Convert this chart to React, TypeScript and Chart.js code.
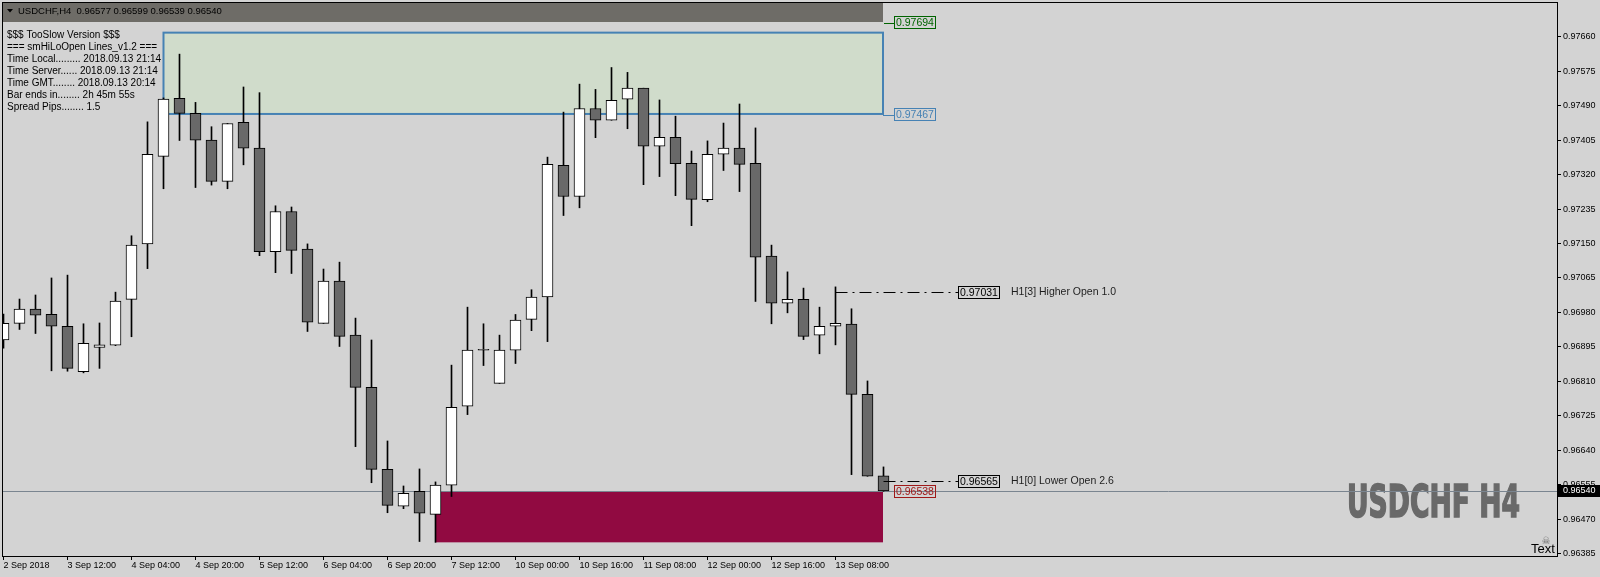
import React, { useEffect, useRef } from "react";
import { Chart, registerables } from "chart.js";

Chart.register(...registerables);

// ---------- data ----------
const OPEN = [
  0.96912, 0.96953, 0.96988, 0.96975, 0.96946, 0.96834, 0.96894, 0.96899, 0.97012, 0.97149,
  0.97365, 0.97508, 0.97471, 0.97405, 0.97303, 0.97449, 0.97385, 0.97130, 0.97229, 0.97136,
  0.96953, 0.97057, 0.96924, 0.96795, 0.96593, 0.96502, 0.96539, 0.96482, 0.96554, 0.96749,
  0.96889, 0.96805, 0.96887, 0.96963, 0.97018, 0.97343, 0.97266, 0.97483, 0.97454, 0.97506,
  0.97533, 0.97390, 0.97412, 0.97348, 0.97258, 0.97370, 0.97385, 0.97348, 0.97119, 0.97003,
  0.97012, 0.96924, 0.96946, 0.96951, 0.96778, 0.96577,
];
const HIGH = [
  0.96976, 0.97013, 0.97023, 0.97065, 0.97072, 0.96952, 0.96954, 0.97030, 0.97169, 0.97450,
  0.97509, 0.97617, 0.97498, 0.97438, 0.97446, 0.97536, 0.97522, 0.97243, 0.97240, 0.97149,
  0.97087, 0.97104, 0.96966, 0.96912, 0.96663, 0.96552, 0.96594, 0.96562, 0.96850, 0.96993,
  0.96952, 0.96924, 0.96975, 0.97036, 0.97363, 0.97474, 0.97543, 0.97530, 0.97584, 0.97572,
  0.97533, 0.97504, 0.97464, 0.97378, 0.97403, 0.97447, 0.97494, 0.97435, 0.97146, 0.97080,
  0.97040, 0.96993, 0.97043, 0.96989, 0.96811, 0.96599,
];
const LOW = [
  0.96892, 0.96938, 0.96928, 0.96836, 0.96835, 0.96831, 0.96842, 0.96898, 0.96920, 0.97088,
  0.97285, 0.97404, 0.97288, 0.97294, 0.97285, 0.97344, 0.97120, 0.97078, 0.97076, 0.96933,
  0.96953, 0.96896, 0.96649, 0.96560, 0.96486, 0.96496, 0.96415, 0.96413, 0.96526, 0.96728,
  0.96849, 0.96805, 0.96854, 0.96935, 0.96908, 0.97219, 0.97238, 0.97411, 0.97454, 0.97433,
  0.97295, 0.97315, 0.97268, 0.97194, 0.97253, 0.97330, 0.97278, 0.97007, 0.96952, 0.96979,
  0.96913, 0.96878, 0.96900, 0.96580, 0.96576, 0.96539,
];
const CLOSE = [
  0.96953, 0.96988, 0.96973, 0.96946, 0.96842, 0.96904, 0.96900, 0.97008, 0.97146, 0.97370,
  0.97506, 0.97471, 0.97405, 0.97303, 0.97446, 0.97385, 0.97130, 0.97229, 0.97133, 0.96956,
  0.97057, 0.96921, 0.96795, 0.96593, 0.96504, 0.96534, 0.96485, 0.96554, 0.96746, 0.96887,
  0.96887, 0.96887, 0.96961, 0.97018, 0.97345, 0.97266, 0.97483, 0.97454, 0.97503, 0.97533,
  0.97390, 0.97412, 0.97347, 0.97259, 0.97370, 0.97385, 0.97345, 0.97116, 0.97003, 0.97012,
  0.96921, 0.96946, 0.96953, 0.96778, 0.96576, 0.96540,
];

const X_TICK_INDEX = [0, 4, 8, 12, 16, 20, 24, 28, 32, 36, 40, 44, 48, 52];
const X_TICK_LABELS = [
  "2 Sep 2018", "3 Sep 12:00", "4 Sep 04:00", "4 Sep 20:00", "5 Sep 12:00", "6 Sep 04:00",
  "6 Sep 20:00", "7 Sep 12:00", "10 Sep 00:00", "10 Sep 16:00", "11 Sep 08:00",
  "12 Sep 00:00", "12 Sep 16:00", "13 Sep 08:00",
];
const Y_TICKS = [
  0.96385, 0.9647, 0.96555, 0.9664, 0.96725, 0.9681, 0.96895, 0.9698, 0.97065, 0.9715,
  0.97235, 0.9732, 0.97405, 0.9749, 0.97575, 0.9766,
];

const SYMBOL = "USDCHF";
const TIMEFRAME = "H4";
const INFO_LINES = [
  "$$$ TooSlow Version $$$",
  "=== smHiLoOpen Lines_v1.2 ===",
  "Time Local......... 2018.09.13 21:14",
  "Time Server...... 2018.09.13 21:14",
  "Time GMT........ 2018.09.13 20:14",
  "Bar ends in........ 2h 45m 55s",
  "Spread Pips........ 1.5",
];

const ZONE_HIGH = [0.9767, 0.97467];
const ZONE_HIGH_FROM = 10;
const ZONE_LOW = [0.96538, 0.96413];
const ZONE_LOW_FROM = 27;
const ZONE_TO = 55;
const TOP_LEVEL = 0.97694;
const H1_LEVELS = [0.97031, 0.96565];
const H1_FROM = [52, 55];
const H1_TEXT = ["H1[3] Higher Open 1.0", "H1[0] Lower Open 2.6"];

const Y_MIN = 0.963793;
const Y_MAX = 0.977431;
const X_MIN = -0.03125;
const X_MAX = 97.09375;

// ---------- styling ----------
const BG = "#D3D3D3";
const BEAR = "#696969";
const BULL = "#FFFFFF";
const F = "'Liberation Sans', Arial, sans-serif";

const fmt = (v: number) => v.toFixed(5);

const mtPlugin = {
  id: "mt",
  beforeDraw(chart: any) {
    const { ctx, width, height } = chart;
    ctx.save();
    ctx.fillStyle = BG;
    ctx.fillRect(0, 0, width, height);
    ctx.restore();
  },
  beforeDatasetsDraw(chart: any) {
    const ctx = chart.ctx;
    const xs = chart.scales.x;
    const ys = chart.scales.y;
    const ca = chart.chartArea;
    ctx.save();
    ctx.beginPath();
    ctx.rect(ca.left, ca.top, ca.right - ca.left, ca.bottom - ca.top);
    ctx.clip();

    // watermark
    ctx.save();
    ctx.font = "bold 44px 'Liberation Sans Narrow', 'DejaVu Sans Condensed', sans-serif";
    const wm = `${SYMBOL} ${TIMEFRAME}`;
    const w = ctx.measureText(wm).width;
    ctx.translate(1347, 516.5);
    ctx.scale(173 / w, 1);
    ctx.fillStyle = "#696969";
    ctx.strokeStyle = "#696969";
    ctx.lineWidth = 1.5;
    ctx.textBaseline = "alphabetic";
    ctx.fillText(wm, 0, 0);
    ctx.strokeText(wm, 0, 0);
    ctx.restore();

    // high zone
    const gx0 = xs.getPixelForValue(ZONE_HIGH_FROM);
    const gx1 = xs.getPixelForValue(ZONE_TO) - 0.5;
    const gy0 = ys.getPixelForValue(ZONE_HIGH[0]);
    const gy1 = ys.getPixelForValue(ZONE_HIGH[1]) - 1;
    ctx.fillStyle = "#D0DCCB";
    ctx.fillRect(gx0, gy0, gx1 - gx0, gy1 - gy0);
    ctx.strokeStyle = "#4682B4";
    ctx.lineWidth = 2;
    ctx.strokeRect(gx0, gy0, gx1 - gx0, gy1 - gy0);

    // low zone
    const rx0 = xs.getPixelForValue(ZONE_LOW_FROM);
    const rx1 = xs.getPixelForValue(ZONE_TO) - 0.5;
    const ry0 = ys.getPixelForValue(ZONE_LOW[0]);
    const ry1 = ys.getPixelForValue(ZONE_LOW[1]);
    ctx.fillStyle = "#910A41";
    ctx.fillRect(rx0, ry0, rx1 - rx0, ry1 - ry0);

    // current price line
    const cp = CLOSE[CLOSE.length - 1];
    const cy = Math.round(ys.getPixelForValue(cp)) + 0.5;
    ctx.strokeStyle = "#7A8590";
    ctx.lineWidth = 1;
    ctx.beginPath();
    ctx.moveTo(ca.left, cy);
    ctx.lineTo(ca.right, cy);
    ctx.stroke();
    ctx.restore();
  },
  afterDatasetsDraw(chart: any) {
    const ctx = chart.ctx;
    const xs = chart.scales.x;
    const ys = chart.scales.y;
    const ca = chart.chartArea;
    ctx.save();
    ctx.beginPath();
    ctx.rect(ca.left, ca.top, ca.right - ca.left, ca.bottom - ca.top);
    ctx.clip();

    const labelBox = (x: number, cy: number, text: string, color: string) => {
      ctx.strokeStyle = color;
      ctx.lineWidth = 1;
      const top = Math.round(cy - 6.5) + 0.5;
      ctx.strokeRect(x + 0.5, top, 41, 12);
      ctx.fillStyle = color;
      ctx.font = `10.5px ${F}`;
      ctx.textBaseline = "middle";
      ctx.textAlign = "left";
      ctx.fillText(text, x + 2, top + 6.5);
    };

    // level labels at zone right side
    const zx = xs.getPixelForValue(ZONE_TO) - 0.5;
    const topY = ys.getPixelForValue(TOP_LEVEL);
    ctx.strokeStyle = "#006400";
    ctx.lineWidth = 1;
    ctx.beginPath();
    ctx.moveTo(zx + 1, Math.round(topY) + 0.5);
    ctx.lineTo(894, Math.round(topY) + 0.5);
    ctx.stroke();
    labelBox(894, topY, fmt(TOP_LEVEL), "#006400");

    const bY = ys.getPixelForValue(ZONE_HIGH[1]);
    ctx.strokeStyle = "#4682B4";
    ctx.beginPath();
    ctx.moveTo(zx, Math.round(bY) + 0.5);
    ctx.lineTo(894, Math.round(bY) + 0.5);
    ctx.stroke();
    labelBox(894, bY, fmt(ZONE_HIGH[1]), "#4682B4");

    const lY = ys.getPixelForValue(ZONE_LOW[0]);
    labelBox(894, lY, fmt(ZONE_LOW[0]), "#A01818");

    // H1 open lines
    H1_LEVELS.forEach((lv, k) => {
      const y = Math.round(ys.getPixelForValue(lv)) + 0.5;
      const x0 = xs.getPixelForValue(H1_FROM[k]);
      ctx.strokeStyle = "#000";
      ctx.lineWidth = 1;
      ctx.setLineDash([12, 5, 2, 5]);
      ctx.beginPath();
      ctx.moveTo(x0, y);
      ctx.lineTo(958, y);
      ctx.stroke();
      ctx.setLineDash([]);
      labelBox(958, y, fmt(lv), "#000");
      ctx.fillStyle = "#1E1E1E";
      ctx.font = `10.5px ${F}`;
      ctx.textBaseline = "middle";
      ctx.fillText(H1_TEXT[k], 1011, y);
    });

    // header bar
    ctx.fillStyle = "#6E6C67";
    ctx.fillRect(ca.left, ca.top, 880, 19);
    ctx.fillStyle = "#000";
    ctx.beginPath();
    ctx.moveTo(7, 9);
    ctx.lineTo(13, 9);
    ctx.lineTo(10, 12.5);
    ctx.closePath();
    ctx.fill();
    const n = CLOSE.length - 1;
    ctx.font = `9.5px ${F}`;
    ctx.textBaseline = "middle";
    ctx.textAlign = "left";
    ctx.fillText(
      `${SYMBOL},${TIMEFRAME}  ${fmt(OPEN[n])} ${fmt(HIGH[n])} ${fmt(LOW[n])} ${fmt(CLOSE[n])}`,
      18,
      11
    );

    // info text
    ctx.font = `10px ${F}`;
    ctx.fillStyle = "#000";
    INFO_LINES.forEach((t, i) => ctx.fillText(t, 7, 35.5 + 12 * i));

    // "Text" object
    ctx.font = `13px ${F}`;
    ctx.textBaseline = "alphabetic";
    ctx.fillText("Text", 1531, 552.5);
    ctx.font = "10px 'DejaVu Sans', sans-serif";
    ctx.fillStyle = "#666";
    ctx.textAlign = "center";
    ctx.textBaseline = "middle";
    ctx.fillText("\u2620", 1546, 541);
    ctx.restore();
  },
  afterDraw(chart: any) {
    const ctx = chart.ctx;
    const ys = chart.scales.y;
    ctx.save();
    ctx.strokeStyle = "#000";
    ctx.lineWidth = 1;
    ctx.strokeRect(2.5, 2.5, 1555, 554);
    // current price tag
    const cp = CLOSE[CLOSE.length - 1];
    const cy = Math.round(ys.getPixelForValue(cp));
    ctx.fillStyle = "#000";
    ctx.fillRect(1558, cy - 6, 42, 12);
    ctx.fillStyle = "#FFF";
    ctx.font = `9px ${F}`;
    ctx.textBaseline = "middle";
    ctx.textAlign = "left";
    ctx.fillText(fmt(cp), 1563, cy);
    ctx.restore();
  },
};

const zeroPad = (s: any) => {
  s.paddingTop = 0;
  s.paddingBottom = 0;
  s.paddingLeft = 0;
  s.paddingRight = 0;
};

export default function App() {
  const ref = useRef<HTMLCanvasElement | null>(null);
  useEffect(() => {
    document.body.style.margin = "0";
    document.body.style.background = BG;
    const canvas = ref.current!;
    const bodies = OPEN.map((o, i) => ({ x: i, y: [o, CLOSE[i]] }));
    const wicks = LOW.map((l, i) => ({ x: i, y: [l, HIGH[i]] }));
    const chart = new Chart(canvas, {
      type: "bar",
      data: {
        datasets: [
          {
            label: "body",
            data: bodies as any,
            backgroundColor: OPEN.map((o, i) => (CLOSE[i] > o ? BULL : BEAR)),
            borderColor: "#000",
            borderWidth: 1,
            borderSkipped: false,
            barThickness: 11,
            grouped: false,
            order: 0,
          } as any,
          {
            label: "wick",
            data: wicks as any,
            backgroundColor: "#000",
            borderWidth: 0,
            barThickness: 1,
            grouped: false,
            order: 1,
          } as any,
        ],
      },
      options: {
        responsive: false,
        devicePixelRatio: 1,
        animation: false,
        layout: { padding: { left: 3, top: 3, right: 0, bottom: 0 } },
        plugins: { legend: { display: false }, tooltip: { enabled: false } },
        scales: {
          x: {
            type: "linear",
            min: X_MIN,
            max: X_MAX,
            bounds: "data",
            offset: false,
            afterBuildTicks: (s: any) => {
              s.ticks = X_TICK_INDEX.map((v) => ({ value: v }));
            },
            afterFit: (s: any) => {
              s.height = 21;
              zeroPad(s);
            },
            ticks: {
              autoSkip: false,
              maxRotation: 0,
              minRotation: 0,
              align: "start",
              padding: 0,
              color: "#000",
              font: { family: F, size: 9 },
              callback: (v: any) => {
                const k = X_TICK_INDEX.indexOf(Number(v));
                return k >= 0 ? X_TICK_LABELS[k] : "";
              },
            },
            grid: { drawOnChartArea: false, drawTicks: true, tickLength: 4, color: "#000", offset: false },
            border: { display: false },
          } as any,
          y: {
            type: "linear",
            position: "right",
            min: Y_MIN,
            max: Y_MAX,
            bounds: "data",
            afterBuildTicks: (s: any) => {
              s.ticks = Y_TICKS.map((v) => ({ value: v }));
            },
            afterFit: (s: any) => {
              s.width = 43;
              zeroPad(s);
            },
            ticks: {
              padding: 2,
              color: "#000",
              font: { family: F, size: 9 },
              callback: (v: any) => fmt(Number(v)),
            },
            grid: { drawOnChartArea: false, drawTicks: true, tickLength: 4, color: "#000" },
            border: { display: false },
          } as any,
        },
      },
      plugins: [mtPlugin],
    });
    return () => chart.destroy();
  }, []);
  return <canvas ref={ref} width={1600} height={577} style={{ display: "block", width: 1600, height: 577 }} />;
}
